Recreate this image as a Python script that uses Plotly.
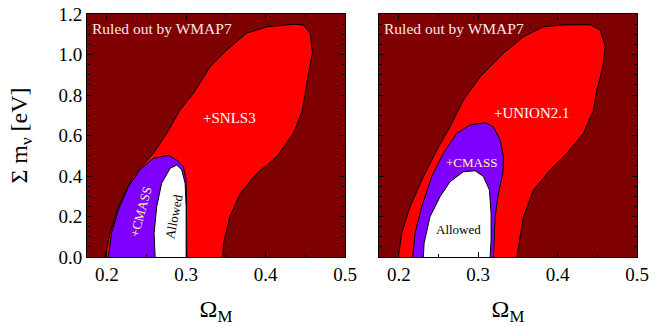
import plotly.graph_objects as go
from plotly.subplots import make_subplots

# Omega_M / sum m_nu confidence regions (x, y pairs), closed along y = 0
snls3_x = [0.198, 0.204, 0.2145, 0.233, 0.2586, 0.2755, 0.292, 0.309, 0.330, 0.351, 0.376, 0.4016, 0.435, 0.448,
           0.456, 0.459, 0.454, 0.448, 0.446, 0.435, 0.414, 0.389, 0.368, 0.355, 0.347, 0.346]
snls3_y = [0.0, 0.118, 0.248, 0.397, 0.512, 0.611, 0.726, 0.808, 0.940, 1.022, 1.105, 1.137, 1.149, 1.146,
           1.105, 1.006, 0.907, 0.775, 0.720, 0.611, 0.495, 0.413, 0.314, 0.199, 0.068, 0.0]

cmass_l_x = [0.2019, 0.206, 0.2145, 0.227, 0.2418, 0.2586, 0.2775, 0.288, 0.2964, 0.2998, 0.3003, 0.3007]
cmass_l_y = [0.0, 0.117, 0.232, 0.347, 0.430, 0.487, 0.502, 0.479, 0.446, 0.380, 0.25, 0.0]

allowed_l_x = [0.2608, 0.2595, 0.2628, 0.269, 0.2797, 0.288, 0.2944, 0.2986, 0.2999, 0.2999]
allowed_l_y = [0.0, 0.117, 0.248, 0.364, 0.438, 0.454, 0.430, 0.364, 0.248, 0.0]

union_x = [0.1994, 0.2036, 0.2141, 0.2309, 0.2477, 0.2645, 0.2813, 0.3024, 0.3317, 0.357, 0.382, 0.4074, 0.441,
           0.4537, 0.460, 0.457, 0.4495, 0.4452, 0.4326, 0.4116, 0.3906, 0.3696, 0.357, 0.3507, 0.3486]
union_y = [0.0, 0.117, 0.248, 0.397, 0.528, 0.643, 0.775, 0.890, 1.006, 1.088, 1.137, 1.146, 1.147,
           1.121, 1.039, 0.940, 0.825, 0.726, 0.611, 0.512, 0.430, 0.331, 0.199, 0.051, 0.0]

cmass_r_x = [0.2175, 0.2204, 0.2288, 0.2414, 0.2561, 0.273, 0.2898, 0.3087, 0.3191, 0.3276, 0.3317, 0.331,
             0.3254, 0.3213, 0.3200, 0.3191]
cmass_r_y = [0.0, 0.117, 0.248, 0.397, 0.512, 0.611, 0.652, 0.663, 0.643, 0.578, 0.495, 0.413,
             0.314, 0.199, 0.068, 0.0]

allowed_r_x = [0.2309, 0.2318, 0.2393, 0.2519, 0.2645, 0.2813, 0.2961, 0.3066, 0.3141, 0.3162, 0.3162, 0.315]
allowed_r_y = [0.0, 0.068, 0.199, 0.298, 0.372, 0.421, 0.426, 0.397, 0.331, 0.216, 0.084, 0.0]

y_ticks = [0.0, 0.2, 0.4, 0.6, 0.8, 1.0, 1.2]
x_ticks = [0.2, 0.3, 0.4, 0.5]

BG = "#7f0000"
RED = "#ff0000"
PURPLE = "#7f00ff"
SERIF = "Liberation Serif"

fig = make_subplots(rows=1, cols=2, horizontal_spacing=0.0618)


def region(x, y, color):
    return go.Scatter(x=x, y=y, fill="toself", fillcolor=color, mode="lines",
                      line=dict(color="black", width=1), hoverinfo="skip", showlegend=False)


for col, layers in [(1, [(snls3_x, snls3_y, RED), (cmass_l_x, cmass_l_y, PURPLE), (allowed_l_x, allowed_l_y, "white")]),
                    (2, [(union_x, union_y, RED), (cmass_r_x, cmass_r_y, PURPLE), (allowed_r_x, allowed_r_y, "white")])]:
    for x, y, c in layers:
        fig.add_trace(region(x, y, c), row=1, col=col)

axis_common = dict(showline=True, linecolor="black", linewidth=1, mirror="allticks", ticks="inside",
                   ticklen=5, tickcolor="black", showgrid=False, zeroline=False, automargin=False,
                   tickfont=dict(family=SERIF, size=19, color="black"))

for col in (1, 2):
    fig.update_xaxes(range=[0.175, 0.5], tickvals=x_ticks, ticktext=[f"{v:.1f}" for v in x_ticks],
                     minor=dict(ticks="inside", ticklen=3, dtick=0.05, tick0=0.0, tickcolor="black"),
                     title=dict(text="Ω<sub>M</sub>", font=dict(family=SERIF, size=24, color="black"), standoff=20),
                     row=1, col=col, **axis_common)
    fig.update_yaxes(range=[0, 1.2], tickvals=y_ticks, ticktext=[f"{v:.1f}" for v in y_ticks],
                     showticklabels=(col == 1),
                     minor=dict(ticks="inside", ticklen=3, dtick=0.05, tick0=0.0, tickcolor="black"),
                     row=1, col=col, **axis_common)

fig.update_yaxes(title=dict(text="Σ m<sub>ν</sub> [eV]", font=dict(family=SERIF, size=24, color="black"), standoff=24),
                 row=1, col=1)

ann = []


def label(xref, yref, x, y, text, color, size, angle=0, xanchor="center"):
    ann.append(dict(xref=xref, yref=yref, x=x, y=y, text=text, showarrow=False, textangle=angle,
                    xanchor=xanchor, font=dict(family=SERIF, size=size, color=color)))


for xr, yr in (("x", "y"), ("x2", "y2")):
    label(xr, yr, 0.1785, 1.13, "Ruled out by WMAP7", "#f4eaea", 15.5, xanchor="left")

label("x", "y", 0.355, 0.686, "+SNLS3", "white", 15)
label("x", "y", 0.242, 0.222, "+CMASS", "#ffff99", 13, angle=-75)
label("x", "y", 0.285, 0.198, "Allowed", "black", 13, angle=-79)
label("x2", "y2", 0.368, 0.711, "+UNION2.1", "white", 15)
label("x2", "y2", 0.292, 0.469, "+CMASS", "#ffff99", 13)
label("x2", "y2", 0.275, 0.138, "Allowed", "black", 13)

fig.update_layout(width=663, height=326, margin=dict(l=87, r=26, t=14, b=69),
                  paper_bgcolor="white", plot_bgcolor=BG, annotations=ann, showlegend=False)

fig.write_html("out.html")
